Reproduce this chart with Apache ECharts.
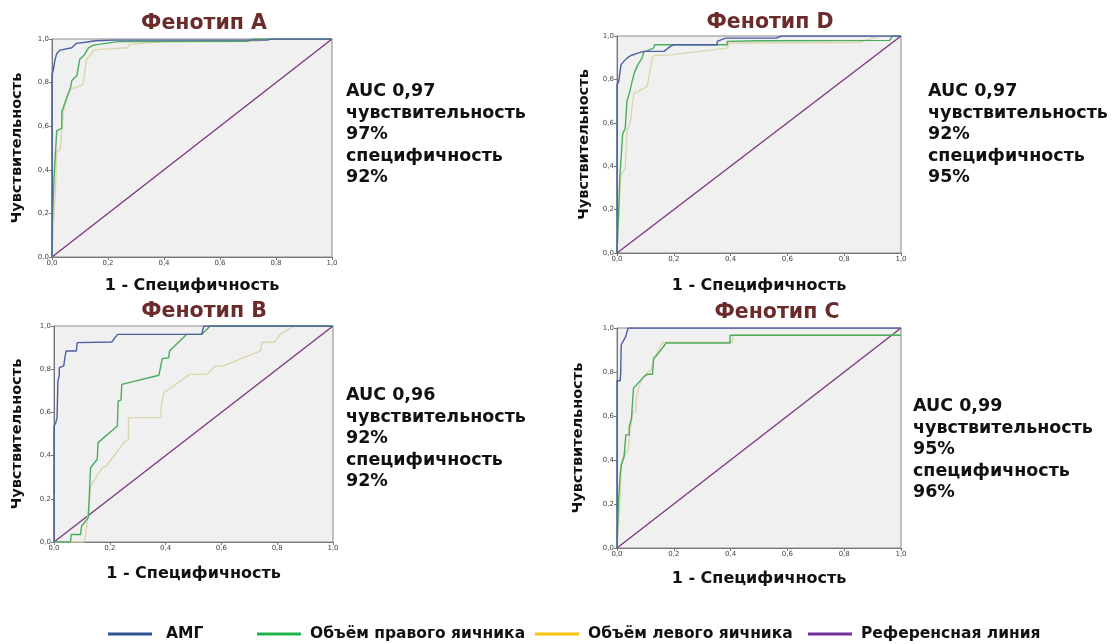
<!DOCTYPE html>
<html>
<head>
<meta charset="utf-8">
<script src="https://cdn.jsdelivr.net/npm/echarts@6/dist/echarts.min.js"></script>
<style>html,body{margin:0;padding:0;background:#fff}#c{width:1112px;height:644px}</style>
</head>
<body>
<div id="c"></div>
<script>
// ---- data ----
const seriesNames = ['АМГ', 'Объём правого яичника', 'Объём левого яичника', 'Референсная линия'];
const panelTitles = ['Фенотип A', 'Фенотип D', 'Фенотип B', 'Фенотип C'];
const tickLabels = ['0,0', '0,2', '0,4', '0,6', '0,8', '1,0'];
const xAxisName = '1 - Специфичность';
const yAxisName = 'Чувствительность';
const annA = ['AUC 0,97', 'чувствительность', '97%', 'специфичность', '92%'];
const annD = ['AUC 0,97', 'чувствительность', '92%', 'специфичность', '95%'];
const annB = ['AUC 0,96', 'чувствительность', '92%', 'специфичность', '92%'];
const annC = ['AUC 0,99', 'чувствительность', '95%', 'специфичность', '96%'];
const refLine = [[0, 0], [1, 1]];

// Phenotype A
const aAMG = [[0,0],[0,0.836],[0.005,0.86],[0.01,0.9],[0.017,0.934],[0.029,0.949],[0.071,0.96],[0.087,0.98],[0.12,0.985],[0.155,0.992],[0.22,0.995],[0.77,0.995],[0.78,1],[1,1]];
const aRight = [[0,0],[0,0.12],[0.005,0.29],[0.007,0.36],[0.017,0.58],[0.035,0.59],[0.035,0.667],[0.047,0.71],[0.055,0.74],[0.067,0.78],[0.071,0.81],[0.089,0.833],[0.099,0.907],[0.113,0.923],[0.131,0.96],[0.149,0.972],[0.234,0.988],[0.7,0.99],[0.72,1],[1,1]];
const aLeft = [[0,0],[0.005,0.16],[0.012,0.3],[0.017,0.486],[0.029,0.49],[0.041,0.67],[0.059,0.75],[0.065,0.77],[0.107,0.787],[0.113,0.81],[0.12,0.88],[0.125,0.91],[0.137,0.926],[0.149,0.95],[0.27,0.96],[0.276,0.975],[0.4,0.988],[0.74,0.99],[0.76,1],[1,1]];

// Phenotype D
const dAMG = [[0,0],[0,0.775],[0.006,0.79],[0.014,0.867],[0.024,0.883],[0.035,0.898],[0.049,0.91],[0.071,0.92],[0.094,0.929],[0.165,0.929],[0.188,0.952],[0.2,0.96],[0.353,0.96],[0.353,0.975],[0.382,0.99],[0.56,0.99],[0.58,1],[1,1]];
const dRight = [[0,0],[0.005,0.157],[0.01,0.35],[0.02,0.55],[0.029,0.574],[0.035,0.7],[0.045,0.744],[0.053,0.79],[0.061,0.83],[0.073,0.867],[0.088,0.898],[0.094,0.926],[0.129,0.944],[0.132,0.96],[0.2,0.96],[0.388,0.96],[0.388,0.975],[0.5,0.978],[0.96,0.98],[0.97,1],[1,1]];
const dLeft = [[0,0],[0.005,0.15],[0.013,0.358],[0.029,0.39],[0.035,0.56],[0.047,0.605],[0.059,0.736],[0.106,0.767],[0.124,0.898],[0.13,0.91],[0.188,0.913],[0.388,0.944],[0.394,0.968],[0.85,0.97],[0.9,0.99],[0.93,1],[1,1]];

// Phenotype B
const bAMG = [[0,0],[0,0.537],[0.006,0.55],[0.011,0.576],[0.014,0.745],[0.019,0.77],[0.019,0.807],[0.035,0.815],[0.039,0.853],[0.043,0.884],[0.08,0.884],[0.083,0.923],[0.207,0.926],[0.228,0.961],[0.529,0.961],[0.537,1],[1,1]];
const bRight = [[0,0],[0.059,0],[0.062,0.035],[0.095,0.035],[0.099,0.074],[0.123,0.113],[0.131,0.344],[0.155,0.383],[0.158,0.46],[0.227,0.537],[0.23,0.653],[0.24,0.657],[0.243,0.73],[0.376,0.772],[0.388,0.849],[0.411,0.853],[0.414,0.884],[0.475,0.961],[0.529,0.961],[0.56,1],[1,1]];
const bLeft = [[0,0],[0.107,0],[0.113,0.028],[0.128,0.205],[0.131,0.26],[0.173,0.344],[0.188,0.352],[0.252,0.463],[0.267,0.475],[0.267,0.576],[0.384,0.576],[0.384,0.622],[0.393,0.691],[0.487,0.776],[0.547,0.776],[0.577,0.815],[0.607,0.815],[0.74,0.885],[0.745,0.925],[0.79,0.925],[0.81,0.96],[0.86,1],[1,1]];

// Phenotype C
const cAMG = [[0,0],[0,0.76],[0.011,0.76],[0.013,0.795],[0.015,0.924],[0.022,0.94],[0.031,0.962],[0.037,0.97],[0.039,1],[1,1]];
const cRight = [[0,0],[0.005,0.21],[0.011,0.33],[0.015,0.377],[0.025,0.415],[0.031,0.514],[0.043,0.514],[0.043,0.55],[0.051,0.59],[0.058,0.726],[0.096,0.78],[0.108,0.79],[0.125,0.79],[0.129,0.863],[0.137,0.871],[0.173,0.932],[0.398,0.932],[0.398,0.967],[1,0.967]];
const cLeft = [[0,0],[0.01,0.2],[0.015,0.38],[0.02,0.41],[0.03,0.43],[0.04,0.45],[0.045,0.52],[0.055,0.62],[0.065,0.62],[0.07,0.7],[0.085,0.76],[0.1,0.79],[0.12,0.81],[0.13,0.86],[0.16,0.935],[0.405,0.935],[0.41,0.967],[1,0.967]];

// ---- layout / styling ----
const panels = [
  {grid:{left:52, top:39, width:280, height:218}, data:[aAMG,aRight,aLeft], title:{x:199,y:8}, ann:annA, annPos:[346,81], xGap:21, yGap:27},
  {grid:{left:617, top:36, width:284, height:217}, data:[dAMG,dRight,dLeft], title:{x:765,y:7}, ann:annD, annPos:[928,81], xGap:25, yGap:25},
  {grid:{left:54, top:326, width:279, height:216}, data:[bAMG,bRight,bLeft], title:{x:199,y:296}, ann:annB, annPos:[346,385], xGap:24, yGap:29},
  {grid:{left:617, top:328, width:284, height:220}, data:[cAMG,cRight,cLeft], title:{x:772,y:297}, ann:annC, annPos:[913,396], xGap:23, yGap:31}
];
const lineColors = ['#4b5ea6', '#4aad5e', '#dcd6ac', '#7b3a7e'];
const legendColors = ['#2f5597', '#23b24b', '#ffc20e', '#7030a0'];
const legendLeft = [103, 252, 530, 803];

const grids = [], xAxes = [], yAxes = [], series = [], titles = [], graphics = [];
const fmt = v => tickLabels[Math.round(v / 0.2)] || '';
const boldFont = {fontFamily:'DejaVu Sans', fontWeight:'bold', color:'#111'};
panels.forEach((p, i) => {
  grids.push(Object.assign({show:true, backgroundColor:'#f0f0f0', borderColor:'#8a8a8a', borderWidth:1}, p.grid));
  xAxes.push({type:'value', gridIndex:i, min:0, max:1, interval:0.2,
    name:xAxisName, nameLocation:'middle', nameGap:p.xGap,
    nameTextStyle:Object.assign({fontSize:16}, boldFont),
    axisLine:{show:true, lineStyle:{color:'#777'}}, axisTick:{show:true, length:3, lineStyle:{color:'#777'}},
    axisLabel:{fontSize:7, color:'#444', margin:3, formatter:fmt, fontFamily:'DejaVu Sans'},
    splitLine:{show:false}});
  yAxes.push({type:'value', gridIndex:i, min:0, max:1, interval:0.2,
    name:yAxisName, nameLocation:'middle', nameGap:p.yGap,
    nameTextStyle:Object.assign({fontSize:14.5}, boldFont),
    axisLine:{show:true, lineStyle:{color:'#777'}}, axisTick:{show:true, length:3, lineStyle:{color:'#777'}},
    axisLabel:{fontSize:7, color:'#444', margin:3, formatter:fmt, fontFamily:'DejaVu Sans'},
    splitLine:{show:false}});
  const order = [3, 2, 1, 0];
  order.forEach(k => {
    const d = k === 3 ? refLine : p.data[k];
    series.push({type:'line', name:seriesNames[k], xAxisIndex:i, yAxisIndex:i, data:d,
      showSymbol:false, symbol:'none', silent:true, animation:false,
      lineStyle:{color:lineColors[k], width:1.4}, itemStyle:{color:lineColors[k]}, z:2 + (3 - k)});
  });
  titles.push({text:panelTitles[i], left:p.title.x, top:p.title.y, textAlign:'center',
    textStyle:{fontFamily:'DejaVu Sans', fontWeight:'bold', fontSize:20.5, color:'#6b2b2b'}});
  graphics.push({type:'text', left:p.annPos[0], top:p.annPos[1],
    style:{text:p.ann.join('\n'), font:'bold 17.5px "DejaVu Sans"', fill:'#111', lineHeight:21.5}});
});

const legends = seriesNames.map((n, k) => ({
  left:legendLeft[k], top:621, orient:'horizontal', selectedMode:false,
  icon:'rect', itemWidth:44, itemHeight:3, itemGap:0,
  data:[{name:n, itemStyle:{color:legendColors[k]}, lineStyle:{color:legendColors[k]}}],
  textStyle:{fontFamily:'DejaVu Sans', fontWeight:'bold', fontSize:15.5, color:'#111', padding:[0,0,0,k===0?9:4]}
}));

const chart = echarts.init(document.getElementById('c'), null, {renderer:'canvas'});
chart.setOption({
  animation:false,
  backgroundColor:'#fff',
  title:titles,
  legend:legends,
  grid:grids, xAxis:xAxes, yAxis:yAxes, series:series, graphic:graphics
});
</script>
</body>
</html>
